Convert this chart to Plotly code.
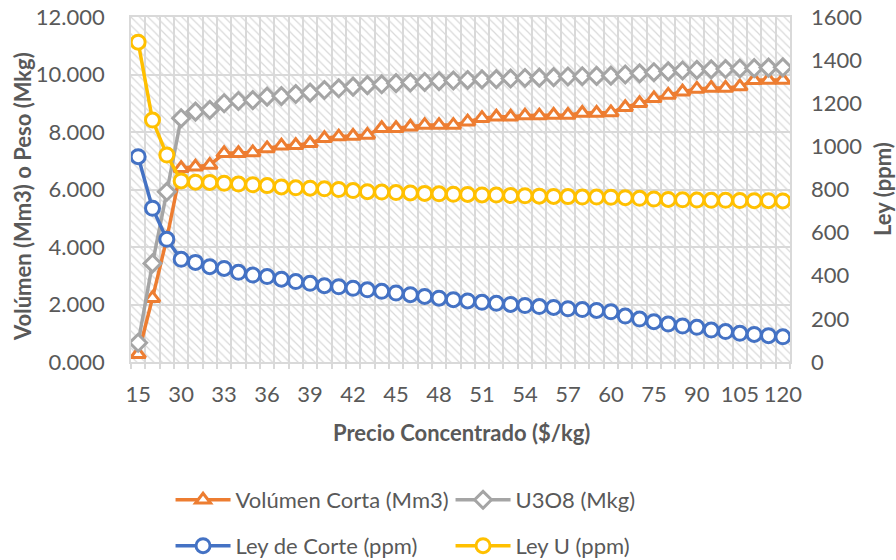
import plotly.graph_objects as go

precio = [15, 20, 25, 30, 31, 32, 33, 34, 35, 36, 37, 38, 39, 40, 41, 42, 43, 44, 45,
          46, 47, 48, 49, 50, 51, 52, 53, 54, 55, 56, 57, 58, 59, 60,
          65, 70, 75, 80, 85, 90, 95, 100, 105, 110, 115, 120]

volumen_corta = [0.27, 2.22, 4.30, 6.74, 6.79, 6.85, 7.26, 7.26, 7.29, 7.43, 7.52, 7.54, 7.61,
                 7.78, 7.84, 7.86, 7.90, 8.13, 8.13, 8.18, 8.24, 8.24, 8.24, 8.36, 8.48, 8.53,
                 8.53, 8.57, 8.57, 8.59, 8.59, 8.66, 8.66, 8.68, 8.86, 9.00, 9.17, 9.29, 9.40,
                 9.50, 9.53, 9.53, 9.58, 9.80, 9.81, 9.81]

u3o8 = [0.67, 3.43, 5.92, 8.48, 8.71, 8.77, 9.00, 9.08, 9.11, 9.23, 9.25, 9.32, 9.37, 9.46,
        9.52, 9.58, 9.63, 9.66, 9.70, 9.72, 9.74, 9.77, 9.79, 9.81, 9.83, 9.84, 9.86, 9.88,
        9.89, 9.91, 9.93, 9.94, 9.95, 9.96, 10.00, 10.04, 10.08, 10.11, 10.14, 10.16, 10.18,
        10.19, 10.21, 10.22, 10.24, 10.25]

ley_corte = [952, 713, 569, 476, 462, 442, 434, 416, 403, 396, 384, 373, 365, 354, 349, 342,
             335, 328, 320, 312, 304, 296, 289, 283, 277, 272, 267, 262, 257, 253, 247, 243,
             239, 233, 213, 199, 187, 176, 167, 161, 148, 141, 133, 128, 122, 117]

ley_u = [1483, 1122, 960, 840, 834, 833, 829, 825, 822, 818, 812, 808, 806, 803, 800, 795,
         790, 788, 786, 784, 782, 780, 778, 777, 775, 774, 772, 771, 769, 768, 767, 765,
         765, 764, 762, 759, 756, 754, 752, 751, 750, 750, 749, 748, 748, 747]

left_max, left_step = 12, 2
right_max, right_step = 1600, 200

FONT = "Lato"
TXT = "#595959"
GRID = "#d9d9d9"

n = len(precio)
idx = list(range(n))

fig = go.Figure()

# hatched plot-area background
fig.add_trace(go.Bar(
    x=[(n - 1) / 2], y=[left_max], width=[n],
    marker=dict(color="rgba(0,0,0,0)", line_width=0,
                pattern=dict(shape="\\", fgcolor="#d9d9d9", bgcolor="rgba(0,0,0,0)",
                             size=6, solidity=0.2, fillmode="replace")),
    showlegend=False, hoverinfo="skip"))

def series(y, name, color, symbol, size, axis, legend):
    return go.Scatter(
        x=idx, y=y, name=name, mode="lines+markers", yaxis=axis, legend=legend,
        line=dict(color=color, width=3.5),
        marker=dict(symbol=symbol, size=size, color="white",
                    line=dict(color=color, width=3)))

fig.add_trace(series(volumen_corta, "Volúmen Corta (Mm3)", "#ED7D31", "triangle-up", 13, "y", "legend"))
fig.add_trace(series(u3o8, "U3O8 (Mkg)", "#A5A5A5", "diamond", 13, "y", "legend"))
fig.add_trace(series(ley_corte, "Ley de Corte (ppm)", "#4472C4", "circle", 14, "y2", "legend2"))
fig.add_trace(series(ley_u, "Ley U (ppm)", "#FFC000", "circle", 14, "y2", "legend2"))

tickfont = dict(family=FONT, size=22, color=TXT)
legfont = dict(family=FONT, size=22, color=TXT)
titlefont = dict(family=FONT, size=22, color=TXT)

# plot area at x 131..790, y 17..362 (body margin removed by post_script)
fig.update_layout(
    width=896, height=560,
    margin=dict(l=131, r=106, t=17, b=198, autoexpand=False),
    paper_bgcolor="white", plot_bgcolor="white",
    font=dict(family=FONT, color=TXT),
    bargap=0,
    xaxis=dict(range=[-0.5, n - 0.5], tickmode="array",
               tickvals=idx[::3], ticktext=[str(p) for p in precio[::3]],
               showgrid=False, zeroline=False, ticks="",
               showline=True, mirror=True, linecolor=GRID, linewidth=1.5,
               minor=dict(tickmode="array", tickvals=[i - 0.5 for i in range(n + 1)],
                          showgrid=True, gridcolor=GRID, gridwidth=1.5,
                          ticks="outside", ticklen=5, tickcolor=GRID, tickwidth=1.5),
               tickfont=tickfont, ticklabelstandoff=12, ticklabeloverflow="allow"),
    yaxis=dict(range=[0, left_max], dtick=left_step, tickformat=".3f",
               showgrid=True, gridcolor=GRID, gridwidth=1.5, zeroline=False,
               showline=True, mirror=True, linecolor=GRID, linewidth=1.5,
               ticks="", tickfont=tickfont, ticklabelstandoff=20,
               ticklabeloverflow="allow"),
    yaxis2=dict(range=[0, right_max], dtick=right_step, overlaying="y", side="right",
                showgrid=False, zeroline=False, showline=False, ticks="",
                tickfont=tickfont, ticklabelstandoff=20, ticklabeloverflow="allow"),
    legend=dict(orientation="h", x=0.06, xanchor="left", y=-0.40, yanchor="middle",
                entrywidth=210, entrywidthmode="pixels", itemwidth=55,
                font=legfont, bgcolor="rgba(0,0,0,0)"),
    legend2=dict(orientation="h", x=0.06, xanchor="left", y=-0.533, yanchor="middle",
                 entrywidth=210, entrywidthmode="pixels", itemwidth=55,
                 font=legfont, bgcolor="rgba(0,0,0,0)"),
    annotations=[
        dict(text="<b>Volúmen (Mm3) o Peso (Mkg)</b>", xref="paper", yref="paper",
             x=(22 - 131) / 659, y=(362 - 197) / 345, textangle=-90, showarrow=False,
             xanchor="center", yanchor="middle", font=titlefont),
        dict(text="<b>Ley (ppm)</b>", xref="paper", yref="paper",
             x=(882 - 131) / 659, y=(362 - 189) / 345, textangle=-90, showarrow=False,
             xanchor="center", yanchor="middle", font=titlefont),
        dict(text="<b>Precio Concentrado ($/kg)</b>", xref="paper", yref="paper",
             x=(461 - 131) / 659, y=(362 - 432) / 345, showarrow=False,
             xanchor="center", yanchor="middle", font=titlefont),
    ],
)

fig.write_html("out.html", config={"displayModeBar": False},
               post_script="document.body.style.margin='0';")
